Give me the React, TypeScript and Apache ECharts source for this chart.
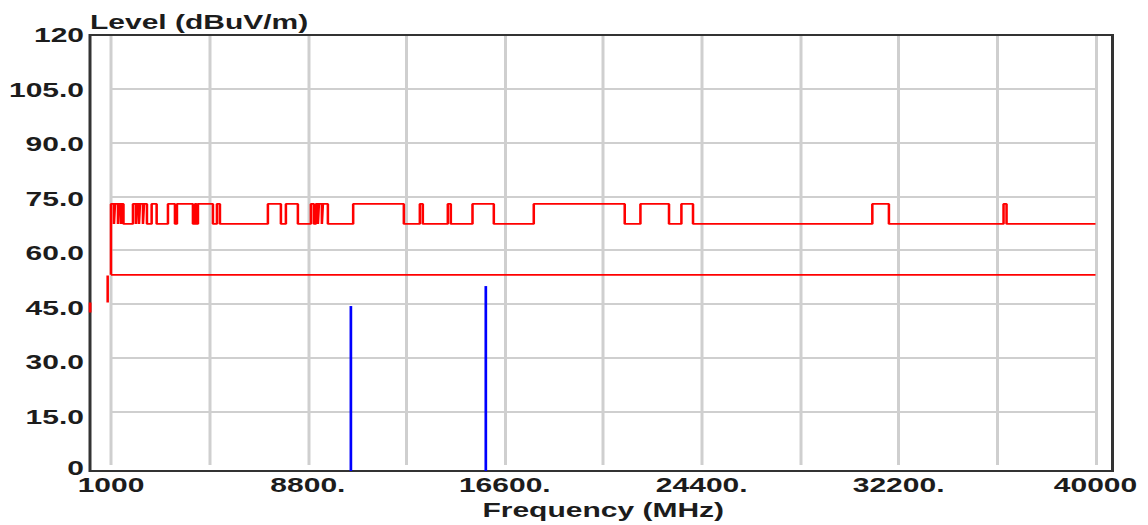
import React, { useEffect, useRef } from "react";
import * as echarts from "echarts";

// ---- axis ranges & tick labels ----
const X_FRAME_MIN = 169;
const X_FRAME_MAX = 40673;
const X_START = 1000;
const X_END = 40000;
const X_STEP = 3900;
const X_TICK_LABELS = ["1000", "", "8800.", "", "16600.", "", "24400.", "", "32200.", "", "40000"];
const Y_MIN = 0;
const Y_MAX = 120;
const Y_STEP = 15;
const Y_TICK_LABELS = ["0", "15.0", "30.0", "45.0", "60.0", "75.0", "90.0", "105.0", "120"];

// ---- limit lines (dBuV/m) ----
const PEAK_HIGH = 73.5;
const PEAK_LOW = 68;
const AVG_LIMIT = 54;
// frequency bands (MHz) where the upper red trace sits at PEAK_HIGH
const PEAK_HIGH_BANDS: [number, number][] = [
  [1000, 1119], [1158, 1277], [1317, 1396], [1436, 1495],
  [1871, 1990], [2029, 2109], [2148, 2267], [2307, 2425],
  [2611, 2809],
  [3257, 3534], [3613, 4247], [4326, 4385], [4445, 5039], [5197, 5316],
  [7216, 7731], [7929, 8404], [8919, 9038], [9117, 9196], [9236, 9354], [9394, 9592],
  [10594, 12601], [13235, 13353], [14343, 14462], [15321, 16165],
  [17748, 21351], [21973, 23105], [23596, 24056],
  [31159, 31816], [36357, 36476],
];
const LEAD_SEGMENT: [number, number][] = [[869, 46.4], [869, 53.8]];
const EDGE_SEGMENT: [number, number][] = [[169, 43.6], [169, 46.4]];

// ---- measured emissions ----
const EMISSION_FREQS = [10503, 15848];
const EMISSION_LEVELS = [45.4, 50.9];

const SX = 1.5;
const W = 1148 / SX;
const H = 525;

const FONT = {
  fontFamily: '"Liberation Sans", Arial, sans-serif',
  fontWeight: "bold" as const,
  fontSize: 20,
  color: "#1c1c1c",
};

export default function App() {
  const ref = useRef<HTMLDivElement>(null);

  useEffect(() => {
    if (!ref.current) return;
    const chart = echarts.init(ref.current, undefined, { renderer: "svg" });

    const peakData: [number, number][] = [[X_START, AVG_LIMIT]];
    PEAK_HIGH_BANDS.forEach(([s, e]) => {
      peakData.push([s, PEAK_HIGH]);
      peakData.push([e, PEAK_LOW]);
    });
    peakData.push([X_END, PEAK_LOW]);

    const redLine = { color: "#ff0000", width: 1.7 };

    const emissionSeries = EMISSION_FREQS.map((f, i) => ({
      type: "line",
      xAxisIndex: 0,
      yAxisIndex: 0,
      symbol: "none",
      lineStyle: { color: "#0000ff", width: 1.8 },
      data: [[f, 0], [f, EMISSION_LEVELS[i]]],
      z: 4,
    }));

    chart.setOption({
      animation: false,
      title: {
        text: "Level (dBuV/m)",
        left: 60,
        top: 12,
        padding: 0,
        textStyle: { ...FONT },
      },
      grid: [
        {
          left: 60,
          right: 1148 / SX - 1113 / SX,
          top: 35,
          bottom: 54,
          show: true,
          borderColor: "#333333",
          borderWidth: 2,
          backgroundColor: "transparent",
          z: 1,
        },
        {
          left: 111 / SX,
          right: 1148 / SX - 1096 / SX,
          top: 35,
          bottom: 54,
        },
      ],
      xAxis: [
        {
          gridIndex: 0,
          type: "value",
          min: X_FRAME_MIN,
          max: X_FRAME_MAX,
          axisLine: { show: false },
          axisTick: { show: false },
          axisLabel: { show: false },
          splitLine: { show: false },
        },
        {
          gridIndex: 1,
          type: "value",
          min: X_START,
          max: X_END,
          interval: X_STEP,
          axisLine: { show: false },
          axisTick: { show: false },
          axisLabel: {
            interval: 0,
            showMinLabel: true,
            showMaxLabel: true,
            hideOverlap: false,
            margin: 13,
            lineHeight: 14,
            formatter: (_v: number, i: number) => X_TICK_LABELS[i] ?? "",
            ...FONT,
          },
          splitLine: { show: true, lineStyle: { color: "#cfcfcf", width: 2 } },
          name: "Frequency (MHz)",
          nameLocation: "middle",
          nameGap: 29,
          nameTextStyle: { ...FONT },
        },
      ],
      yAxis: [
        {
          gridIndex: 0,
          type: "value",
          min: Y_MIN,
          max: Y_MAX,
          interval: Y_STEP,
          axisLine: { show: false },
          axisTick: { show: false },
          axisLabel: {
            margin: 4,
            lineHeight: 14,
            formatter: (_v: number, i: number) =>
              i === 0 ? `{low|${Y_TICK_LABELS[i]}}` : Y_TICK_LABELS[i] ?? "",
            rich: {
              low: { ...FONT, lineHeight: 14, padding: [0, 0, 7, 0] },
            },
            ...FONT,
          },
          splitLine: { show: false },
        },
        {
          gridIndex: 1,
          type: "value",
          min: Y_MIN,
          max: Y_MAX,
          interval: Y_STEP,
          axisLine: { show: false },
          axisTick: { show: false },
          axisLabel: { show: false },
          splitLine: {
            show: true,
            showMinLine: false,
            showMaxLine: false,
            lineStyle: { color: "#cfcfcf", width: 2 },
          },
        },
      ],
      series: [
        {
          type: "line",
          xAxisIndex: 0,
          yAxisIndex: 0,
          step: "end",
          symbol: "none",
          lineStyle: redLine,
          data: peakData,
          z: 3,
        },
        {
          type: "line",
          xAxisIndex: 0,
          yAxisIndex: 0,
          symbol: "none",
          lineStyle: redLine,
          data: [[X_START, AVG_LIMIT], [X_END, AVG_LIMIT]],
          z: 3,
        },
        {
          type: "line",
          xAxisIndex: 0,
          yAxisIndex: 0,
          symbol: "none",
          lineStyle: redLine,
          data: LEAD_SEGMENT,
          z: 3,
        },
        {
          type: "line",
          xAxisIndex: 0,
          yAxisIndex: 0,
          symbol: "none",
          clip: false,
          lineStyle: { color: "#ff0000", width: 2 },
          data: EDGE_SEGMENT,
          z: 5,
        },
        ...emissionSeries,
      ],
    });

    return () => chart.dispose();
  }, []);

  return (
    <div
      ref={ref}
      style={{
        position: "fixed",
        left: 0,
        top: 0,
        width: W,
        height: H,
        transform: `scaleX(${SX})`,
        transformOrigin: "0 0",
        background: "#ffffff",
      }}
    />
  );
}
